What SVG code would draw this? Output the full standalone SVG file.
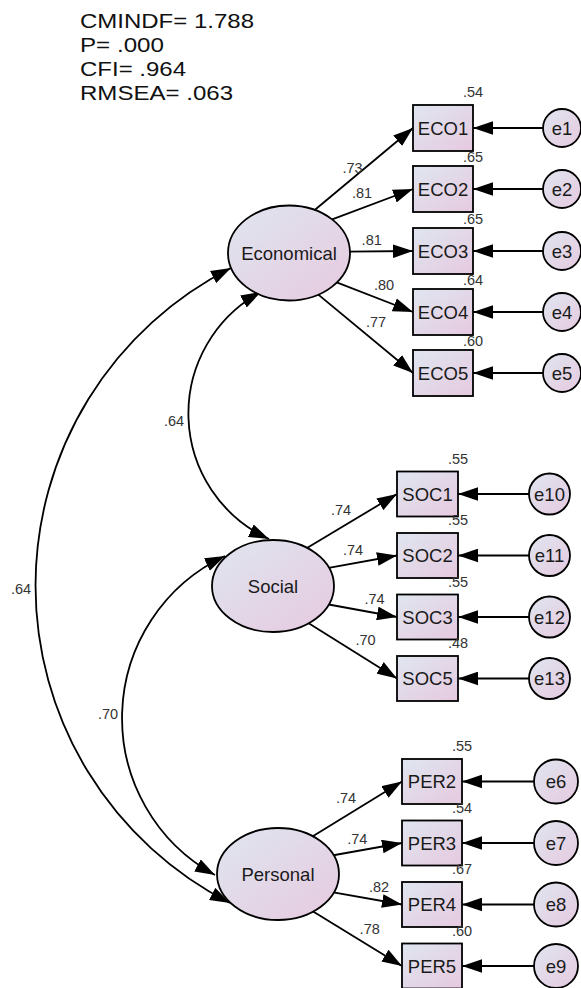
<svg xmlns="http://www.w3.org/2000/svg" width="581" height="988" viewBox="0 0 581 988">
<defs>
<linearGradient id="g" x1="0" y1="0" x2="1" y2="1">
<stop offset="0" stop-color="#dfe6ef"/>
<stop offset="1" stop-color="#e6c9e0"/>
</linearGradient>
<marker id="ah" markerUnits="userSpaceOnUse" markerWidth="20" markerHeight="14" viewBox="0 0 19 13" refX="19" refY="6.5" orient="auto-start-reverse">
<path d="M0,0 L19,6.5 L0,13 z" fill="#000"/>
</marker>
</defs>
<style>
.n{fill:url(#g);stroke:#000;stroke-width:1.8}
.t{font-family:"Liberation Sans",Arial,sans-serif;font-size:18.5px;fill:#1a1a1a;text-anchor:middle}
.l{font-family:"Liberation Sans",Arial,sans-serif;font-size:14.5px;fill:#333;text-anchor:middle}
.h{font-family:"Liberation Sans",Arial,sans-serif;font-size:20.5px;fill:#111}
.c line,.c path{stroke:#000;stroke-width:1.8;fill:none;marker-end:url(#ah)}
.c path{marker-start:url(#ah)}
</style>
<rect width="581" height="988" fill="#fff"/>
<g id="fit">
<text class="h" x="80" y="27.5" textLength="174" lengthAdjust="spacingAndGlyphs">CMINDF= 1.788</text>
<text class="h" x="80" y="51.5" textLength="84" lengthAdjust="spacingAndGlyphs">P= .000</text>
<text class="h" x="80" y="75.5" textLength="106" lengthAdjust="spacingAndGlyphs">CFI= .964</text>
<text class="h" x="80" y="99.5" textLength="153" lengthAdjust="spacingAndGlyphs">RMSEA= .063</text>
</g>
<g id="connectors" class="c">
<line x1="314.4" y1="210.2" x2="413" y2="128"/>
<line x1="332.2" y1="219.4" x2="413" y2="189"/>
<line x1="347" y1="251.7" x2="413" y2="251"/>
<line x1="332.2" y1="280.6" x2="413" y2="312"/>
<line x1="314.4" y1="291.4" x2="413" y2="373"/>
<line x1="543" y1="128" x2="473" y2="128"/>
<line x1="543" y1="189" x2="473" y2="189"/>
<line x1="543" y1="251" x2="473" y2="251"/>
<line x1="543" y1="312" x2="473" y2="312"/>
<line x1="543" y1="373" x2="473" y2="373"/>
<line x1="305.7" y1="548.8" x2="397" y2="494"/>
<line x1="328.7" y1="567.8" x2="397" y2="555.5"/>
<line x1="328.7" y1="604.5" x2="397" y2="617"/>
<line x1="307.5" y1="622.4" x2="397" y2="678.5"/>
<line x1="529" y1="494" x2="458" y2="494"/>
<line x1="529" y1="555.5" x2="458" y2="555.5"/>
<line x1="529" y1="617" x2="458" y2="617"/>
<line x1="529" y1="678.5" x2="458" y2="678.5"/>
<line x1="312.4" y1="836.6" x2="402" y2="781.5"/>
<line x1="332" y1="855.5" x2="402" y2="843"/>
<line x1="332" y1="892.2" x2="402" y2="904.5"/>
<line x1="310.7" y1="910.1" x2="402" y2="966"/>
<line x1="534" y1="781.5" x2="462" y2="781.5"/>
<line x1="534" y1="843" x2="462" y2="843"/>
<line x1="534" y1="904.5" x2="462" y2="904.5"/>
<line x1="534" y1="966" x2="462" y2="966"/>
<path d="M231,268 A356,356 0 0 0 230,903"/>
<path d="M261,292 A138,138 0 0 0 269,539"/>
<path d="M225,556 A179,179 0 0 0 215,875"/>
</g>
<g id="labels">
<text class="l" x="352.5" y="172.9">.73</text>
<text class="l" x="362" y="198.2">.81</text>
<text class="l" x="371.7" y="245.2">.81</text>
<text class="l" x="384" y="290.2">.80</text>
<text class="l" x="376" y="326.9">.77</text>
<text class="l" x="341" y="515.2">.74</text>
<text class="l" x="353" y="555.2">.74</text>
<text class="l" x="374.5" y="603.9">.74</text>
<text class="l" x="365.5" y="644.7">.70</text>
<text class="l" x="346" y="802.9">.74</text>
<text class="l" x="357.3" y="843.5">.74</text>
<text class="l" x="379" y="891.9">.82</text>
<text class="l" x="369.7" y="933.9">.78</text>
<text class="l" x="174" y="426.2">.64</text>
<text class="l" x="21" y="594">.64</text>
<text class="l" x="108" y="718.7">.70</text>
</g>
<g id="Economical"><ellipse class="n" cx="289" cy="253" rx="61" ry="47.5"/><text class="t" x="289" y="259.5">Economical</text></g>
<g id="Social"><ellipse class="n" cx="273" cy="586" rx="61" ry="46"/><text class="t" x="273" y="592.5">Social</text></g>
<g id="Personal"><ellipse class="n" cx="278" cy="874" rx="61" ry="46"/><text class="t" x="278" y="880.5">Personal</text></g>
<g id="ECO1"><rect class="n" x="413" y="105" width="60" height="46"/><text class="t" x="443" y="134.5">ECO1</text><text class="l" x="473" y="97">.54</text></g>
<g id="ECO2"><rect class="n" x="413" y="166" width="60" height="46"/><text class="t" x="443" y="195.5">ECO2</text><text class="l" x="473" y="162">.65</text></g>
<g id="ECO3"><rect class="n" x="413" y="228" width="60" height="46"/><text class="t" x="443" y="257.5">ECO3</text><text class="l" x="473" y="224">.65</text></g>
<g id="ECO4"><rect class="n" x="413" y="289" width="60" height="46"/><text class="t" x="443" y="318.5">ECO4</text><text class="l" x="473" y="285">.64</text></g>
<g id="ECO5"><rect class="n" x="413" y="350" width="60" height="46"/><text class="t" x="443" y="379.5">ECO5</text><text class="l" x="473" y="346">.60</text></g>
<g id="e1"><circle class="n" cx="562" cy="128" r="19"/><text class="t" x="562" y="134.5">e1</text></g>
<g id="e2"><circle class="n" cx="562" cy="189" r="19"/><text class="t" x="562" y="195.5">e2</text></g>
<g id="e3"><circle class="n" cx="562" cy="251" r="19"/><text class="t" x="562" y="257.5">e3</text></g>
<g id="e4"><circle class="n" cx="562" cy="312" r="19"/><text class="t" x="562" y="318.5">e4</text></g>
<g id="e5"><circle class="n" cx="562" cy="373" r="19"/><text class="t" x="562" y="379.5">e5</text></g>
<g id="SOC1"><rect class="n" x="397" y="471.5" width="61" height="45"/><text class="t" x="427.5" y="500.5">SOC1</text><text class="l" x="458" y="463.5">.55</text></g>
<g id="SOC2"><rect class="n" x="397" y="533" width="61" height="45"/><text class="t" x="427.5" y="562">SOC2</text><text class="l" x="458" y="525">.55</text></g>
<g id="SOC3"><rect class="n" x="397" y="594.5" width="61" height="45"/><text class="t" x="427.5" y="623.5">SOC3</text><text class="l" x="458" y="586.5">.55</text></g>
<g id="SOC5"><rect class="n" x="397" y="656" width="61" height="45"/><text class="t" x="427.5" y="685">SOC5</text><text class="l" x="458" y="648">.48</text></g>
<g id="e10"><circle class="n" cx="549.5" cy="494" r="20.5"/><text class="t" x="549.5" y="500.5">e10</text></g>
<g id="e11"><circle class="n" cx="549.5" cy="555.5" r="20.5"/><text class="t" x="549.5" y="562">e11</text></g>
<g id="e12"><circle class="n" cx="549.5" cy="617" r="20.5"/><text class="t" x="549.5" y="623.5">e12</text></g>
<g id="e13"><circle class="n" cx="549.5" cy="678.5" r="20.5"/><text class="t" x="549.5" y="685">e13</text></g>
<g id="PER2"><rect class="n" x="402" y="759" width="60" height="45"/><text class="t" x="432" y="788">PER2</text><text class="l" x="462" y="751">.55</text></g>
<g id="PER3"><rect class="n" x="402" y="820.5" width="60" height="45"/><text class="t" x="432" y="849.5">PER3</text><text class="l" x="462" y="812.5">.54</text></g>
<g id="PER4"><rect class="n" x="402" y="882" width="60" height="45"/><text class="t" x="432" y="911">PER4</text><text class="l" x="462" y="874">.67</text></g>
<g id="PER5"><rect class="n" x="402" y="943.5" width="60" height="45"/><text class="t" x="432" y="972.5">PER5</text><text class="l" x="462" y="935.5">.60</text></g>
<g id="e6"><circle class="n" cx="556" cy="781.5" r="22"/><text class="t" x="556" y="788">e6</text></g>
<g id="e7"><circle class="n" cx="556" cy="843" r="22"/><text class="t" x="556" y="849.5">e7</text></g>
<g id="e8"><circle class="n" cx="556" cy="904.5" r="22"/><text class="t" x="556" y="911">e8</text></g>
<g id="e9"><circle class="n" cx="556" cy="966" r="22"/><text class="t" x="556" y="972.5">e9</text></g>
</svg>
